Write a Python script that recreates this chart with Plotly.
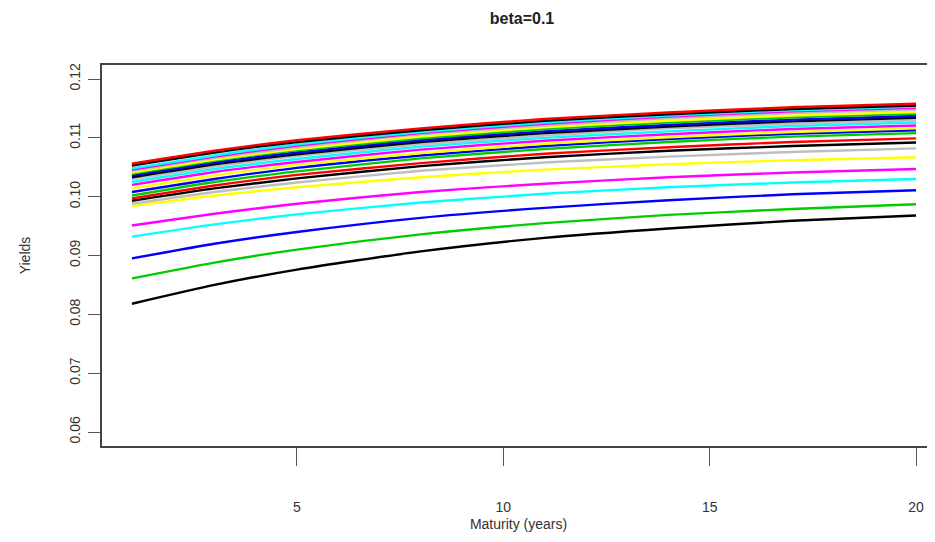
import plotly.graph_objects as go

maturities = [1, 3, 5, 8, 11, 14, 17, 20]

colors = ["#000000", "#00CD00", "#0000FF", "#00FFFF", "#FF00FF", "#FFFF00", "#BEBEBE", "#000000",
          "#FF0000", "#00CD00", "#0000FF", "#FFFF00", "#FF00FF", "#00FFFF", "#BEBEBE", "#000000",
          "#0000FF", "#00CD00", "#FFFF00", "#BEBEBE", "#FF00FF", "#00FFFF", "#000000", "#FF0000"]

y01 = [0.0818, 0.0850, 0.0876, 0.0907, 0.0930, 0.0946, 0.0959, 0.0968]
y02 = [0.0861, 0.0888, 0.0910, 0.0936, 0.0955, 0.0969, 0.0979, 0.0987]
y03 = [0.0895, 0.0920, 0.0940, 0.0964, 0.0981, 0.0994, 0.1004, 0.1011]
y04 = [0.0932, 0.0953, 0.0970, 0.0990, 0.1005, 0.1016, 0.1024, 0.1030]
y05 = [0.0951, 0.0971, 0.0988, 0.1008, 0.1022, 0.1033, 0.1041, 0.1047]
y06 = [0.0984, 0.1002, 0.1016, 0.1033, 0.1046, 0.1055, 0.1062, 0.1067]
y07 = [0.0988, 0.1008, 0.1024, 0.1044, 0.1058, 0.1068, 0.1076, 0.1082]
y08 = [0.0993, 0.1014, 0.1031, 0.1052, 0.1067, 0.1078, 0.1086, 0.1092]
y09 = [0.0997, 0.1019, 0.1037, 0.1057, 0.1073, 0.1084, 0.1093, 0.1099]
y10 = [0.1002, 0.1025, 0.1043, 0.1065, 0.1081, 0.1093, 0.1102, 0.1108]
y11 = [0.1008, 0.1030, 0.1049, 0.1070, 0.1086, 0.1098, 0.1107, 0.1113]
y12 = [0.1014, 0.1036, 0.1054, 0.1074, 0.1090, 0.1101, 0.1110, 0.1116]
y13 = [0.1020, 0.1042, 0.1059, 0.1080, 0.1095, 0.1106, 0.1115, 0.1121]
y14 = [0.1025, 0.1047, 0.1064, 0.1085, 0.1100, 0.1111, 0.1120, 0.1126]
y15 = [0.1030, 0.1051, 0.1069, 0.1089, 0.1104, 0.1116, 0.1124, 0.1130]
y16 = [0.1033, 0.1055, 0.1072, 0.1093, 0.1108, 0.1119, 0.1128, 0.1134]
y17 = [0.1036, 0.1058, 0.1075, 0.1096, 0.1111, 0.1122, 0.1131, 0.1137]
y18 = [0.1039, 0.1061, 0.1079, 0.1099, 0.1115, 0.1126, 0.1135, 0.1141]
y19 = [0.1041, 0.1063, 0.1081, 0.1102, 0.1118, 0.1129, 0.1138, 0.1144]
y20 = [0.1044, 0.1066, 0.1084, 0.1106, 0.1121, 0.1133, 0.1142, 0.1148]
y21 = [0.1046, 0.1068, 0.1087, 0.1108, 0.1124, 0.1136, 0.1145, 0.1151]
y22 = [0.1048, 0.1070, 0.1089, 0.1110, 0.1126, 0.1138, 0.1147, 0.1153]
y23 = [0.1053, 0.1075, 0.1093, 0.1113, 0.1129, 0.1140, 0.1149, 0.1155]
y24 = [0.1056, 0.1078, 0.1096, 0.1116, 0.1132, 0.1143, 0.1152, 0.1158]

curves = [y01, y02, y03, y04, y05, y06, y07, y08, y09, y10, y11, y12,
          y13, y14, y15, y16, y17, y18, y19, y20, y21, y22, y23, y24]

x_ticks = [5, 10, 15, 20]
y_ticks = [0.06, 0.07, 0.08, 0.09, 0.10, 0.11, 0.12]
y_labels = ["0.06", "0.07", "0.08", "0.09", "0.10", "0.11", "0.12"]

fig = go.Figure()
for ys, c in zip(curves, colors):
    fig.add_trace(go.Scatter(x=maturities, y=ys, mode="lines",
                             line=dict(color=c, width=2.4, shape="spline", smoothing=0.6),
                             showlegend=False, hoverinfo="skip"))

font = "Liberation Sans, Arial, sans-serif"
fig.update_layout(
    width=927, height=534,
    margin=dict(l=94, r=0, t=57, b=96, autoexpand=False),
    plot_bgcolor="white", paper_bgcolor="white",
    font=dict(family=font, color="#333333"),
    title=dict(text="<b>beta=0.1</b>", x=0.5545, xanchor="center", y=0.981, yanchor="middle",
               yref="container", automargin=False,
               font=dict(size=16, color="#222222", family=font)),
    xaxis=dict(range=[0.275, 20.46], tickvals=x_ticks, ticktext=[str(v) for v in x_ticks],
               automargin=False,
               showgrid=False, zeroline=False, showline=True, linecolor="#444444", linewidth=1.5,
               mirror=True, ticks="outside", ticklen=18, tickcolor="#555555", tickwidth=1.2,
               tickfont=dict(size=14, color="#333333"), ticklabelstandoff=29,
               title=dict(text="Maturity (years)", font=dict(size=14, color="#333333"), standoff=6)),
    yaxis=dict(range=[0.05762, 0.12238], tickvals=y_ticks, ticktext=y_labels, tickangle=-90,
               automargin=False,
               showgrid=False, zeroline=False, showline=True, linecolor="#444444", linewidth=1.5,
               mirror=False, ticks="outside", ticklen=12, tickcolor="#555555", tickwidth=1.2,
               tickfont=dict(size=14, color="#333333"), ticklabelstandoff=3,
               title=dict(text="Yields", font=dict(size=14, color="#333333"), standoff=33)),
)

fig.write_html("out.html")
